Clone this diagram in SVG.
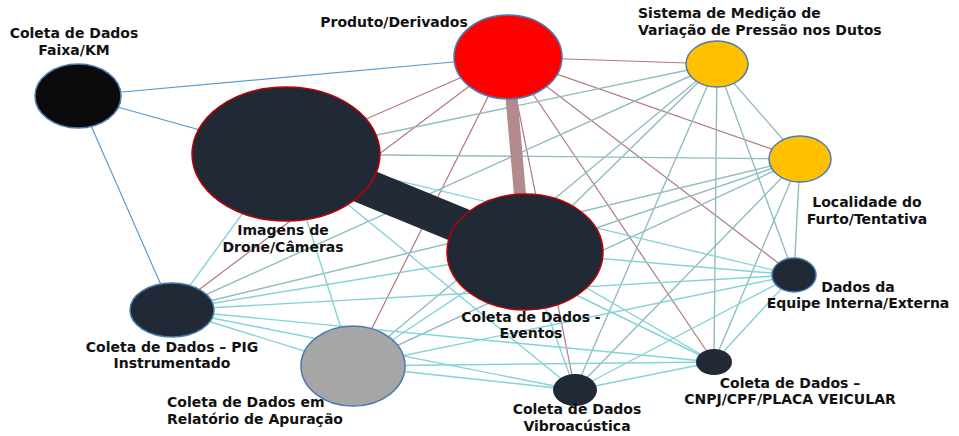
<svg xmlns="http://www.w3.org/2000/svg" width="959" height="436" viewBox="0 0 959 436">
  <style>
    .lbl { font-family: "DejaVu Sans", "Liberation Sans", sans-serif; font-weight: bold; font-size: 14px; fill: #111111; }
    .mid { text-anchor: middle; }
    .blue { stroke: #5b9bd5; stroke-width: 1.2; }
    .mauve { stroke: #b07880; stroke-width: 1.2; }
    .teal { stroke: #92bcc1; stroke-width: 1.4; }
    .cyan { stroke: #84d3d7; stroke-width: 1.4; }
    .navy { fill: #212936; }
    .rim-red { stroke: #c00000; stroke-width: 1.5; }
    .rim-blue { stroke: #4a7bb0; stroke-width: 1.5; }
  </style>
  <rect width="959" height="436" fill="#ffffff"/>

  <g id="connectors" fill="none" stroke-linecap="butt">
    <!-- Faixa/KM -->
    <line class="blue" x1="78" y1="96" x2="508" y2="57"/>
    <line class="blue" x1="78" y1="96" x2="286" y2="154"/>
    <line class="blue" x1="78" y1="96" x2="172" y2="310"/>

    <!-- Produto/Derivados -->
    <line class="mauve" x1="508" y1="57" x2="717" y2="64"/>
    <line class="mauve" x1="508" y1="57" x2="800" y2="159"/>
    <line class="mauve" x1="508" y1="57" x2="794" y2="275"/>
    <line class="mauve" x1="508" y1="57" x2="714" y2="362"/>
    <line class="mauve" x1="508" y1="57" x2="575" y2="390"/>
    <line class="mauve" x1="508" y1="57" x2="353" y2="366"/>
    <line class="mauve" x1="508" y1="57" x2="172" y2="310"/>
    <line class="mauve" x1="508" y1="57" x2="286" y2="154" stroke-width="3" stroke="#a86a72"/>

    <!-- Sistema de Medição -->
    <line class="teal" x1="717" y1="64" x2="286" y2="154"/>
    <line class="teal" x1="717" y1="64" x2="800" y2="159"/>
    <line class="teal" x1="717" y1="64" x2="794" y2="275"/>
    <line class="teal" x1="717" y1="64" x2="714" y2="362"/>
    <line class="teal" x1="717" y1="64" x2="575" y2="390"/>
    <line class="teal" x1="717" y1="64" x2="353" y2="366"/>
    <line class="teal" x1="717" y1="64" x2="172" y2="310"/>

    <!-- Localidade do Furto -->
    <line class="teal" x1="800" y1="159" x2="286" y2="154"/>
    <line class="teal" x1="800" y1="159" x2="794" y2="275"/>
    <line class="teal" x1="800" y1="159" x2="714" y2="362"/>
    <line class="teal" x1="800" y1="159" x2="575" y2="390"/>
    <line class="teal" x1="800" y1="159" x2="353" y2="366"/>
    <line class="teal" x1="800" y1="159" x2="172" y2="310"/>

    <!-- Imagens de Drone -->
    <line class="cyan" x1="286" y1="154" x2="172" y2="310"/>
    <line class="cyan" x1="286" y1="154" x2="794" y2="275"/>
    <line class="cyan" x1="286" y1="154" x2="714" y2="362"/>
    <line class="cyan" x1="286" y1="154" x2="575" y2="390"/>

    <!-- Eventos -->
    <line class="cyan" x1="525" y1="252" x2="714" y2="362"/>
    <line class="cyan" x1="525" y1="252" x2="575" y2="390"/>
    <line class="cyan" x1="525" y1="252" x2="172" y2="310"/>

    <!-- Equipe / CNPJ / Vibro / Relatório / PIG -->
    <line class="cyan" x1="794" y1="275" x2="172" y2="310"/>
    <line class="cyan" x1="794" y1="275" x2="353" y2="366"/>
    <line class="cyan" x1="794" y1="275" x2="575" y2="390"/>
    <line class="cyan" x1="794" y1="275" x2="714" y2="362"/>
    <line class="cyan" x1="714" y1="362" x2="172" y2="310"/>
    <line class="cyan" x1="714" y1="362" x2="353" y2="366"/>
    <line class="cyan" x1="714" y1="362" x2="575" y2="390"/>
    <line class="cyan" x1="575" y1="390" x2="172" y2="310"/>
    <line class="cyan" x1="575" y1="390" x2="353" y2="366"/>
    <line class="cyan" x1="353" y1="366" x2="172" y2="310"/>

    <!-- heavy links -->
    <line class="teal" x1="717" y1="64" x2="525" y2="252" stroke-width="6.5" stroke="#8fb6bb"/>
    <line class="teal" x1="800" y1="159" x2="525" y2="252" stroke-width="4" stroke="#8fb6bb"/>
    <line class="cyan" x1="525" y1="252" x2="794" y2="275" stroke-width="4.5"/>
    <line class="cyan" x1="286" y1="154" x2="353" y2="366" stroke-width="5"/>
    <line class="cyan" x1="525" y1="252" x2="353" y2="366" stroke-width="11"/>
    <line x1="508" y1="57" x2="525" y2="252" stroke="#b38a8e" stroke-width="12"/>
    <line x1="286" y1="154" x2="525" y2="252" stroke="#222a38" stroke-width="36"/>
  </g>

  <g id="node-faixa">
    <ellipse cx="78" cy="96" rx="43" ry="32" fill="#0b0b0b" class="rim-blue"/>
    <text class="lbl mid" x="74" y="38">Coleta de Dados</text>
    <text class="lbl mid" x="74" y="55">Faixa/KM</text>
  </g>

  <g id="node-produto">
    <ellipse cx="508" cy="57" rx="54" ry="42" fill="#ff0000" class="rim-blue"/>
    <text class="lbl mid" x="394" y="27">Produto/Derivados</text>
  </g>

  <g id="node-sistema">
    <ellipse cx="717" cy="64" rx="31" ry="23" fill="#ffc000" class="rim-blue"/>
    <text class="lbl" x="638" y="18">Sistema de Medição de</text>
    <text class="lbl" x="638" y="35">Variação de Pressão nos Dutos</text>
  </g>

  <g id="node-localidade">
    <ellipse cx="800" cy="159" rx="31" ry="23" fill="#ffc000" class="rim-blue"/>
    <text class="lbl mid" x="867" y="207">Localidade do</text>
    <text class="lbl mid" x="867" y="224">Furto/Tentativa</text>
  </g>

  <g id="node-imagens">
    <ellipse cx="286" cy="154" rx="94" ry="67" class="navy rim-red"/>
    <text class="lbl mid" x="283" y="235">Imagens de</text>
    <text class="lbl mid" x="283" y="252">Drone/Câmeras</text>
  </g>

  <g id="node-eventos">
    <ellipse cx="525" cy="252" rx="78" ry="58" class="navy rim-red"/>
    <text class="lbl mid" x="531" y="322">Coleta de Dados -</text>
    <text class="lbl mid" x="531" y="338">Eventos</text>
  </g>

  <g id="node-equipe">
    <ellipse cx="794" cy="275" rx="22" ry="17" class="navy rim-blue"/>
    <text class="lbl mid" x="858" y="292">Dados da</text>
    <text class="lbl mid" x="858" y="308">Equipe Interna/Externa</text>
  </g>

  <g id="node-cnpj">
    <ellipse cx="714" cy="362" rx="18" ry="13" class="navy"/>
    <text class="lbl mid" x="790" y="388">Coleta de Dados –</text>
    <text class="lbl mid" x="790" y="404">CNPJ/CPF/PLACA VEICULAR</text>
  </g>

  <g id="node-vibro">
    <ellipse cx="575" cy="390" rx="22" ry="16" class="navy"/>
    <text class="lbl mid" x="577" y="414">Coleta de Dados</text>
    <text class="lbl mid" x="577" y="431">Vibroacústica</text>
  </g>

  <g id="node-relatorio">
    <ellipse cx="353" cy="366" rx="52" ry="40" fill="#a6a6a6" class="rim-blue"/>
    <text class="lbl" x="167" y="407">Coleta de Dados em</text>
    <text class="lbl" x="167" y="424">Relatório de Apuração</text>
  </g>

  <g id="node-pig">
    <ellipse cx="172" cy="310" rx="42" ry="27" class="navy rim-blue"/>
    <text class="lbl mid" x="172" y="352">Coleta de Dados – PIG</text>
    <text class="lbl mid" x="172" y="368">Instrumentado</text>
  </g>
</svg>
